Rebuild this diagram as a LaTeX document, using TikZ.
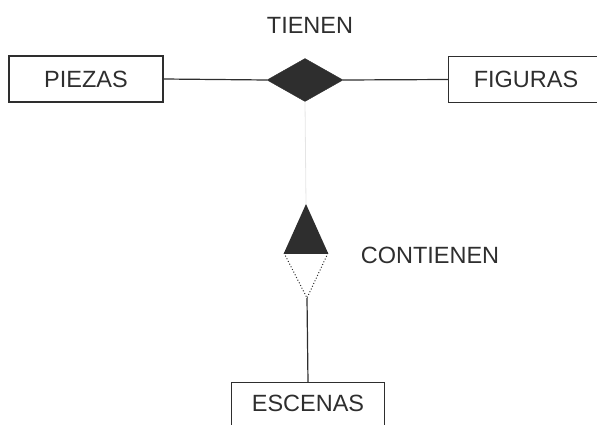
\documentclass[tikz,border=0pt]{standalone}
\usepackage{fontspec}
\setmainfont{Liberation Sans}
\usetikzlibrary{shapes.geometric}
\definecolor{ink}{HTML}{2E2E2E}
\begin{document}
\begin{tikzpicture}[x=1pt,y=-1pt,
  lbl/.style={text=ink,font=\fontsize{23.5}{27}\selectfont,inner sep=0pt},
  entbox/.style={lbl,rectangle,minimum width=154pt,minimum height=46pt},
  conn/.style={draw=ink,line width=1.2pt},
  faint/.style={draw=black!10,line width=0.8pt}]
\useasboundingbox (0,0) rectangle (597,425);
\coordinate (pageR) at (597,0);
\coordinate (pageB) at (0,425);
% entities
\node[entbox,draw=ink,line width=1.2pt] (piezas) at (86,79) {PIEZAS};
\node[entbox] (figuras) at (526,79.5) {FIGURAS};
\draw[conn] (figuras.north west -| pageR) -- (figuras.north west) -- (figuras.south west) -- (figuras.south west -| pageR);
\node[lbl,rectangle,minimum width=152pt,minimum height=40pt] (escenas) at (308,403) {ESCENAS};
\draw[conn] (escenas.north west |- pageB) -- (escenas.north west) -- (escenas.north east) -- (escenas.north east |- pageB);
% relationship TIENEN
\node[diamond,fill=ink,draw=ink,inner sep=0pt,minimum width=76pt,minimum height=43pt] (tienen) at (305,80) {};
\node[lbl] (tienenlbl) at (310,25) {TIENEN};
\draw[conn] (piezas.east) -- (tienen.west);
\draw[conn] (tienen.east) -- (figuras.west);
% relationship CONTIENEN
\coordinate (ctop) at (306,204);
\coordinate (cl) at (284,253);
\coordinate (cr) at (328,253);
\coordinate (cbot) at (307,298);
\fill[ink] (ctop) -- (cl) -- (cr) -- cycle;
\draw[conn] (cl) -- (cr);
\draw[draw=ink,line width=1pt,dotted] (cl) -- (cbot) -- (cr);
\node[lbl] (contienenlbl) at (430,255) {CONTIENEN};
\draw[faint] (tienen.south) -- (ctop);
\draw[conn] (cbot) -- (escenas.north);
\end{tikzpicture}
\end{document}
